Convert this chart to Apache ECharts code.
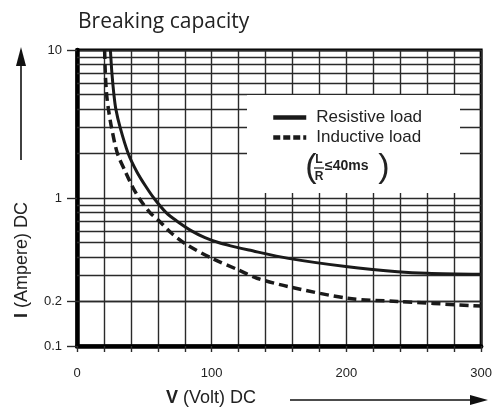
<!DOCTYPE html>
<html>
<head>
<meta charset="utf-8">
<script src="https://cdn.jsdelivr.net/npm/echarts@6/dist/echarts.min.js"></script>
<style>
html,body{margin:0;padding:0;background:#fff;}
#c{width:495px;height:411px;}
</style>
</head>
<body>
<div id="c"></div>
<script>
// ---- data ----
const resistiveV = [24.8, 25.9, 27.4, 28.8, 32, 38, 44.5, 51, 57, 66, 74, 85, 95, 105, 114, 127.5, 157, 201, 238, 260, 300];
const resistiveI = [10, 7, 5, 4, 3, 2, 1.5, 1.2, 1, 0.8, 0.7, 0.6, 0.54, 0.5, 0.475, 0.445, 0.391, 0.343, 0.318, 0.31, 0.305];
const inductiveV = [20.5, 21, 22, 23.3, 25.6, 30, 36, 41, 46, 54, 61, 70, 82, 100.5, 120, 133.6, 157, 201, 238, 300];
const inductiveI = [10, 7, 5, 4, 3, 2, 1.5, 1.2, 1, 0.8, 0.7, 0.58, 0.48, 0.39, 0.326, 0.287, 0.252, 0.21, 0.2, 0.186];
const xLabelValues = [0, 100, 200, 300];
const yLabelValues = [0.1, 0.2, 1, 10];
const minorGridI = [0.2, 0.3, 0.4, 0.5, 0.6, 0.7, 0.8, 0.9, 2, 3, 4, 5, 6, 7, 8, 9];
const seriesNames = ['Resistive load', 'Inductive load'];

const chart = echarts.init(document.getElementById('c'), null, {renderer: 'canvas'});
const ink = '#1a1a1a';
const gridInk = '#2a2a2a';
const font = 'Liberation Sans, Arial, sans-serif';

const option = {
  backgroundColor: '#fff',
  animation: false,
  title: {
    text: 'Breaking capacity', left: 73, top: 7,
    textStyle: {fontSize: 21, fontWeight: 'normal', color: '#222', fontFamily: 'Open Sans'}
  },
  grid: {left: 77, right: 11, top: 50, bottom: 65, show: true, borderColor: '#000', borderWidth: 3, backgroundColor: 'transparent'},
  legend: {
    orient: 'vertical', left: 266, top: 104, z: 120,
    itemWidth: 33, itemHeight: 14, itemGap: 3,
    data: [
      {name: seriesNames[0], itemStyle: {opacity: 0}, lineStyle: {width: 4.5, type: 'solid', color: ink}},
      {name: seriesNames[1], itemStyle: {opacity: 0}, lineStyle: {width: 4.5, type: [7, 3], color: ink}}
    ],
    textStyle: {fontSize: 17, color: '#222', fontFamily: font, padding: [0, 0, 0, 5]},
    selectedMode: false
  },
  xAxis: {
    type: 'value', min: 0, max: 300, interval: 20,
    axisLine: {show: true, lineStyle: {color: '#000', width: 4.5}},
    axisTick: {show: true, length: 6, lineStyle: {color: gridInk, width: 1.4}},
    axisLabel: {
      margin: 21, fontSize: 13, color: '#222', fontFamily: font,
      formatter: v => (xLabelValues.indexOf(v) >= 0 ? String(v) : '')
    },
    splitLine: {show: true, lineStyle: {color: gridInk, width: 1.4}}
  },
  yAxis: {
    type: 'log', logBase: 10, min: 0.1, max: 10,
    axisLine: {show: true, lineStyle: {color: '#000', width: 4.5}},
    axisTick: {show: true, length: 10, customValues: yLabelValues, lineStyle: {color: gridInk, width: 1.4}},
    axisLabel: {
      margin: 15, fontSize: 13, color: '#222', fontFamily: font,
      customValues: yLabelValues,
      formatter: v => String(+(+v).toPrecision(2))
    },
    splitLine: {show: true, lineStyle: {color: gridInk, width: 1.4}}
  },
  series: [
    {
      name: seriesNames[0], type: 'line', smooth: 0.3, symbol: 'none', z: 5,
      lineStyle: {color: ink, width: 3, type: 'solid'},
      itemStyle: {color: ink},
      data: resistiveV.map((v, i) => [v, resistiveI[i]]),
      markLine: {
        silent: true, symbol: ['none', 'none'], animation: false,
        label: {show: false},
        lineStyle: {color: gridInk, width: 1.4, type: 'solid'},
        emphasis: {disabled: true},
        data: minorGridI.map(v => ({yAxis: v}))
      }
    },
    {
      name: seriesNames[1], type: 'line', smooth: 0.3, symbol: 'none', z: 5,
      lineStyle: {color: ink, width: 3.5, type: [9, 5]},
      itemStyle: {color: ink},
      data: inductiveV.map((v, i) => [v, inductiveI[i]])
    }
  ],
  graphic: [
    {type: 'rect', z: 100, shape: {x: 247, y: 95, width: 213, height: 98}, style: {fill: '#fff'}},
    // fraction (L/R <= 40ms)
    {type: 'text', z: 110, x: 311, y: 168, style: {text: '(', fontSize: 34, fontFamily: font, fill: '#222', align: 'center', verticalAlign: 'middle'}},
    {type: 'text', z: 110, x: 384, y: 168, style: {text: ')', fontSize: 34, fontFamily: font, fill: '#222', align: 'center', verticalAlign: 'middle'}},
    {type: 'text', z: 110, x: 319, y: 160, style: {text: 'L', fontSize: 12, fontWeight: 'bold', fontFamily: font, fill: '#222', align: 'center', verticalAlign: 'middle'}},
    {type: 'line', z: 110, shape: {x1: 314, y1: 168, x2: 324, y2: 168}, style: {stroke: '#222', lineWidth: 1.3}},
    {type: 'text', z: 110, x: 319, y: 177, style: {text: 'R', fontSize: 12, fontWeight: 'bold', fontFamily: font, fill: '#222', align: 'center', verticalAlign: 'middle'}},
    {type: 'text', z: 110, x: 325, y: 166, style: {text: '≤40ms', fontSize: 14, fontWeight: 'bold', fontFamily: font, fill: '#222', align: 'left', verticalAlign: 'middle'}},
    // y axis name and arrow
    {type: 'text', z: 110, x: 22, y: 260, rotation: Math.PI / 2,
      style: {text: '{b|I} (Ampere) DC', fontSize: 18, fontFamily: font, fill: '#222', align: 'center', verticalAlign: 'middle',
        rich: {b: {fontSize: 18, fontWeight: 'bold', fontFamily: font, fill: '#222'}}}},
    {type: 'line', z: 110, shape: {x1: 21, y1: 160, x2: 21, y2: 60}, style: {stroke: '#111', lineWidth: 1.6}},
    {type: 'polygon', z: 110, shape: {points: [[16, 66], [26, 66], [21, 47]]}, style: {fill: '#111'}},
    // x axis name and arrow
    {type: 'text', z: 110, x: 211, y: 398,
      style: {text: '{b|V} (Volt) DC', fontSize: 18, fontFamily: font, fill: '#222', align: 'center', verticalAlign: 'middle',
        rich: {b: {fontSize: 18, fontWeight: 'bold', fontFamily: font, fill: '#222'}}}},
    {type: 'line', z: 110, shape: {x1: 290, y1: 400, x2: 475, y2: 400}, style: {stroke: '#111', lineWidth: 1.6}},
    {type: 'polygon', z: 110, shape: {points: [[470, 395], [470, 405], [488, 400]]}, style: {fill: '#111'}}
  ]
};
chart.setOption(option);
</script>
</body>
</html>
